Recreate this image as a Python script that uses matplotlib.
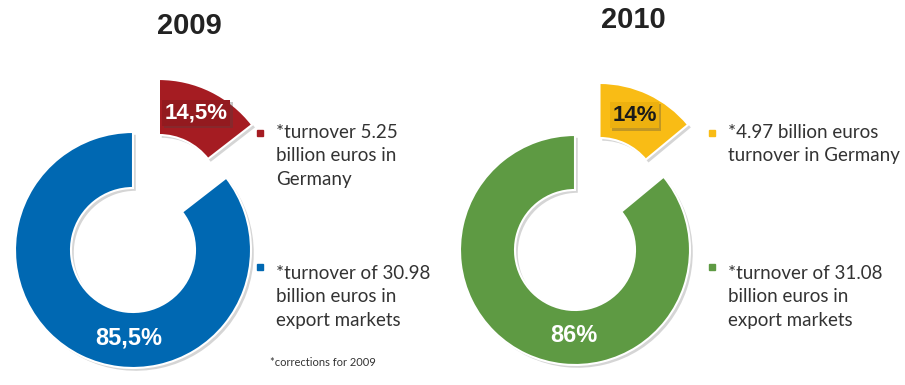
import math
import matplotlib.pyplot as plt
import matplotlib.patheffects as pe

# Turnover split, Germany vs export markets
years = ['2009', '2010']
shares = [[14.5, 85.5], [14, 86]]
share_labels = [['14,5%', '85,5%'], ['14%', '86%']]
colors = [['#A51C22', '#0068B2'], ['#F9BC15', '#5E9A43']]
box_colors = ['#931A1F', '#EDB10F']
label_colors = [['white', 'white'], ['#1a1a1a', 'white']]
notes = [
    ['*turnover 5.25\nbillion euros in\nGermany',
     '*turnover of 30.98\nbillion euros in\nexport markets'],
    ['*4.97 billion euros\nturnover in Germany',
     '*turnover of 31.08\nbillion euros in\nexport markets'],
]

W, H = 905, 385
fig = plt.figure(figsize=(W / 100, H / 100), dpi=100)
ax = fig.add_axes([0, 0, 1, 1])

# donut layout (pixels, y measured from bottom)
centers = [(133, 135), (575, 135)]
radii = [118, 115]
holes = [62, 60]
title_pos = [(189, 359), (633, 365)]
note_x = [260, 712]
bullet_y = [252, 118]
note_top = [261, 120]

shadow = [pe.SimplePatchShadow(offset=(2, -2), shadow_rgbFace='#888888', alpha=0.35),
          pe.Normal()]
box_shadow = [pe.SimplePatchShadow(offset=(1.5, -1.5), shadow_rgbFace='#444444', alpha=0.3),
              pe.Normal()]

for i in range(2):
    cx, cy = centers[i]
    r = radii[i]
    wedges, _ = ax.pie(shares[i], colors=colors[i], startangle=90, counterclock=False,
                       center=(cx, cy), radius=r, explode=[r * 0.5, 0],
                       wedgeprops=dict(width=r - holes[i], edgecolor='white', linewidth=1.5))
    for w in wedges:
        w.set_path_effects(shadow)

    # small slice label with its dark box
    w0 = wedges[0]
    ang = (w0.theta1 + w0.theta2) / 2
    wx, wy = w0.center
    rm = r - 0.47 * (r - holes[i])
    lx = wx + rm * math.cos(math.radians(ang)) - 3
    ly = wy + rm * math.sin(math.radians(ang)) + 2
    t = ax.text(lx, ly, share_labels[i][0], ha='center', va='center', fontsize=16,
                fontweight='bold', color=label_colors[i][0], family='Liberation Sans',
                bbox=dict(boxstyle='square,pad=0.12', facecolor=box_colors[i],
                          edgecolor='none'),
                zorder=5)
    t.get_bbox_patch().set_path_effects(box_shadow)

    # big slice label at the bottom of the ring
    by = cy - r + (r - holes[i]) / 2 + 2
    ax.text(cx - 4 + i * 3, by, share_labels[i][1], ha='center', va='center', fontsize=17,
            fontweight='bold', color=label_colors[i][1], family='Liberation Sans', zorder=5)

    ax.text(*title_pos[i], years[i], ha='center', va='center', fontsize=21,
            fontweight='bold', color='#222222', family='Liberation Sans')

    # side notes with square bullets
    for j in range(2):
        ax.plot(note_x[i], bullet_y[j], marker='s', markersize=4, color=colors[i][j],
                linestyle='none')
        ax.text(note_x[i] + 16, note_top[j], notes[i][j], ha='left', va='top',
                fontsize=13.5, color='#333333', family='Lato', linespacing=1.45)

ax.text(270, 23, '*corrections for 2009', ha='left', va='center', fontsize=8,
        color='#333333', family='Lato')

# pie() resets the limits, so set the pixel frame last
ax.set_xlim(0, W)
ax.set_ylim(0, H)
ax.set_aspect('equal')
ax.axis('off')

fig.savefig('out.png', dpi=100, facecolor='white')
